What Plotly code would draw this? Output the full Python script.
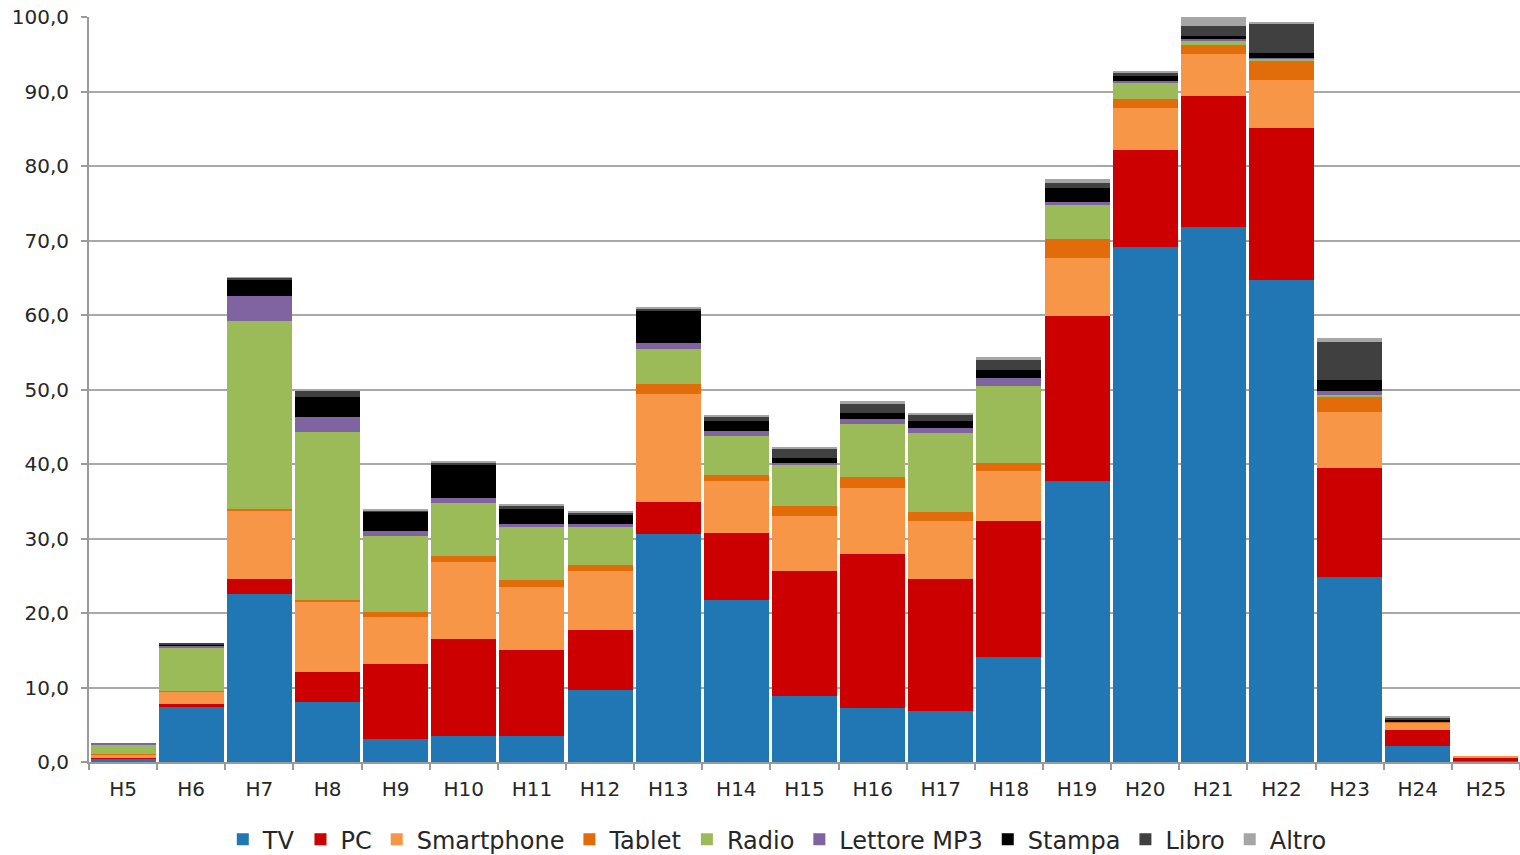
import plotly.graph_objects as go

categories = ["H5", "H6", "H7", "H8", "H9", "H10", "H11", "H12", "H13", "H14", "H15",
              "H16", "H17", "H18", "H19", "H20", "H21", "H22", "H23", "H24", "H25"]

tv         = [0.5, 7.4, 22.6, 8.0, 3.1, 3.5, 3.5, 9.6, 30.6, 21.8, 8.8, 7.3, 6.8, 14.1, 37.7, 69.1, 71.8, 64.7, 24.9, 2.2, 0.1]
pc         = [0.1, 0.4, 2.0, 4.1, 10.0, 13.0, 11.5, 8.1, 4.3, 9.0, 16.9, 20.6, 17.7, 18.2, 22.1, 13.1, 17.6, 20.4, 14.5, 2.1, 0.5]
smartphone = [0.4, 1.6, 9.1, 9.4, 6.4, 10.4, 8.5, 8.0, 14.5, 6.9, 7.3, 8.9, 7.8, 6.7, 7.9, 5.6, 5.7, 6.5, 7.6, 1.0, 0.2]
tablet     = [0.1, 0.1, 0.3, 0.2, 0.7, 0.8, 0.9, 0.8, 1.3, 0.8, 1.3, 1.4, 1.3, 1.1, 2.5, 1.2, 1.2, 2.6, 2.0, 0.2, 0.0]
radio      = [1.3, 5.9, 25.2, 22.6, 10.1, 7.1, 7.1, 5.0, 4.8, 5.2, 5.5, 7.2, 10.6, 10.4, 4.6, 2.2, 0.6, 0.2, 0.3, 0.0, 0.0]
mp3        = [0.1, 0.2, 3.3, 2.0, 0.7, 0.6, 0.4, 0.4, 0.7, 0.7, 0.3, 0.6, 0.6, 1.0, 0.4, 0.2, 0.2, 0.1, 0.5, 0.0, 0.0]
stampa     = [0.0, 0.2, 2.3, 2.7, 2.6, 4.4, 2.1, 1.3, 4.4, 1.4, 0.7, 0.9, 1.0, 1.1, 1.8, 0.7, 0.3, 0.7, 1.5, 0.1, 0.0]
libro      = [0.0, 0.2, 0.2, 0.8, 0.2, 0.4, 0.4, 0.3, 0.3, 0.6, 1.2, 1.2, 0.9, 1.3, 0.7, 0.4, 1.4, 3.9, 5.1, 0.4, 0.0]
altro      = [0.0, 0.0, 0.1, 0.2, 0.1, 0.1, 0.1, 0.1, 0.2, 0.2, 0.3, 0.3, 0.2, 0.5, 0.5, 0.2, 1.2, 0.1, 0.5, 0.1, 0.0]

series_names = ["TV", "PC", "Smartphone", "Tablet", "Radio", "Lettore MP3", "Stampa", "Libro", "Altro"]
series_values = [tv, pc, smartphone, tablet, radio, mp3, stampa, libro, altro]
series_colors = ["#2177b4", "#cc0000", "#f79646", "#e36c0a", "#9bbb59", "#8064a2", "#000000", "#404040", "#a6a6a6"]

y_ticks = [0, 10, 20, 30, 40, 50, 60, 70, 80, 90, 100]

fig = go.Figure()
for name, vals, col in zip(series_names, series_values, series_colors):
    fig.add_trace(go.Bar(x=categories, y=vals, name=name, marker=dict(color=col, line=dict(width=0))))

fig.update_layout(
    barmode="stack",
    bargap=0.045,
    width=1520, height=855,
    margin=dict(l=89, r=0, t=17, b=93, autoexpand=False),
    paper_bgcolor="white", plot_bgcolor="white",
    separators=",.",
    font=dict(family="DejaVu Sans", size=20, color="#262626"),
    legend=dict(orientation="h", x=0.481, xanchor="center", yref="container",
                y=0.018, yanchor="middle",
                font=dict(size=24, color="#262626"), traceorder="normal", itemwidth=30),
    xaxis=dict(showline=True, linecolor="#9a9a9a", linewidth=2, ticks="outside",
               tickson="boundaries", ticklen=6, tickcolor="#9a9a9a", tickwidth=2,
               showgrid=False, tickfont=dict(size=20), ticklabelstandoff=8,
               automargin=False),
    yaxis=dict(range=[0, 100], tickvals=y_ticks, tickformat=".1f", showline=True,
               linecolor="#9a9a9a", linewidth=2, ticks="outside", ticklen=6,
               tickcolor="#9a9a9a", tickwidth=2, showgrid=True, gridcolor="#a8a8a8",
               gridwidth=2, zeroline=False, tickfont=dict(size=20),
               ticklabelstandoff=8, automargin=False),
)

fig.write_html("out.html")
